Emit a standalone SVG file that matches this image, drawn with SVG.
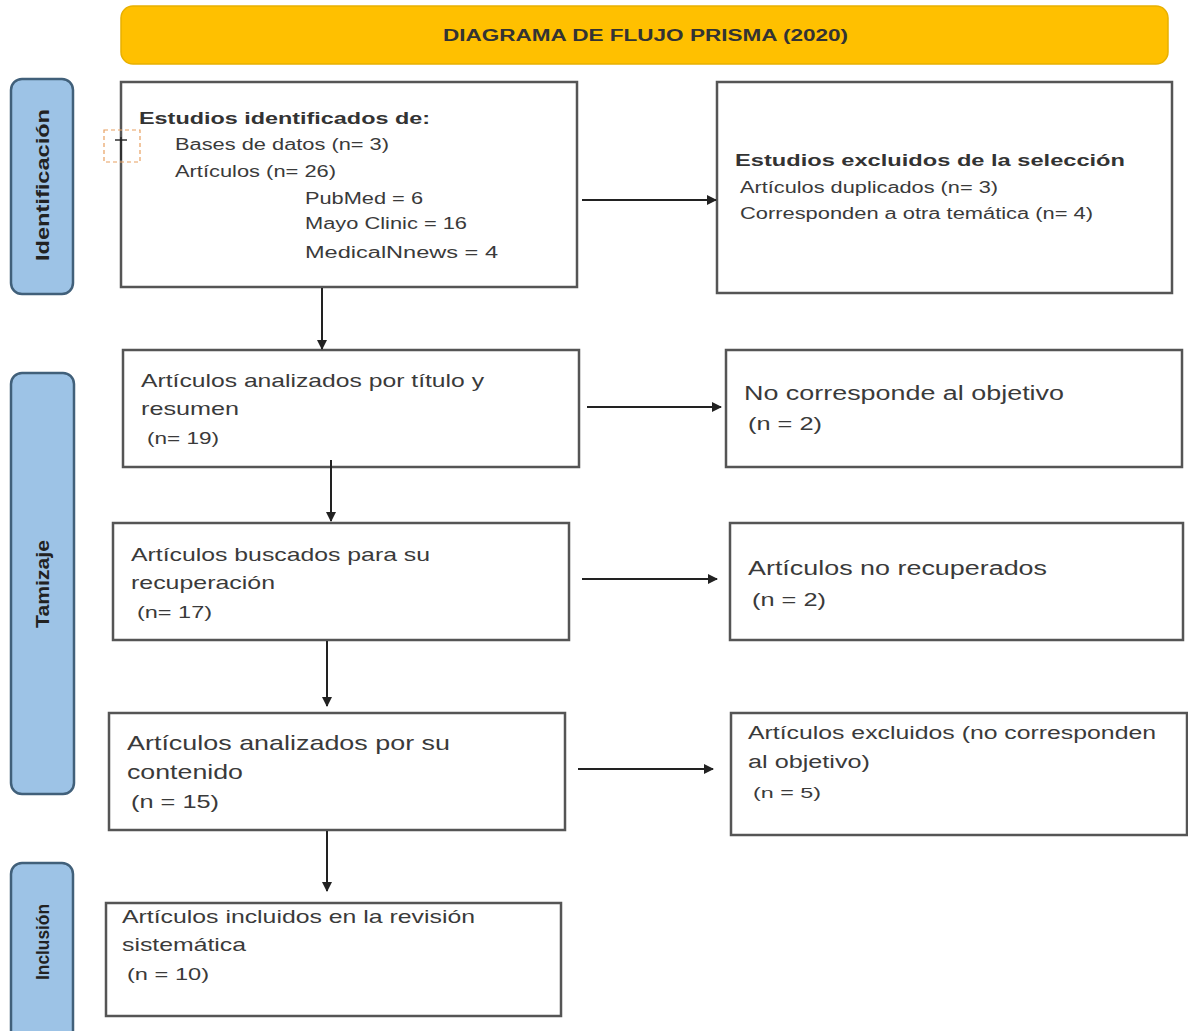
<svg xmlns="http://www.w3.org/2000/svg" width="1188" height="1031" viewBox="0 0 1188 1031">
<defs>
<marker id="ah" viewBox="0 0 10 10" refX="9" refY="5" markerWidth="5" markerHeight="5" orient="auto" markerUnits="strokeWidth">
<path d="M0,0 L10,5 L0,10 z" fill="#222"/>
</marker>
<style>
.box{fill:#fff;stroke:#555;stroke-width:2.5}
.side{fill:#9dc3e6;stroke:#41607a;stroke-width:2.5}
.sidet{font-family:"Liberation Sans",Arial,sans-serif;font-weight:bold;font-size:19px;fill:#222;text-anchor:middle}
.t{font-family:"Liberation Sans",Arial,sans-serif;fill:#3a3a3a}
.b{font-weight:bold;fill:#333}
.con{stroke:#222;stroke-width:2;fill:none;marker-end:url(#ah)}
</style>
</defs>
<rect width="1188" height="1031" fill="#fff"/>
<g id="title">
<rect x="121" y="6" width="1047" height="58" rx="12" fill="#ffc000" stroke="#e8b000" stroke-width="1.5"/>
<text x="443" y="41" class="t b" font-size="16" fill="#333" textLength="405" lengthAdjust="spacingAndGlyphs">DIAGRAMA DE FLUJO PRISMA (2020)</text>
</g>
<g id="side-identificacion">
<rect x="11" y="79" width="62" height="215" rx="11" class="side"/>
<text class="sidet" transform="translate(49,185) rotate(-90)" textLength="152" lengthAdjust="spacingAndGlyphs">Identificación</text>
</g>
<g id="side-tamizaje">
<rect x="11" y="373" width="63" height="421" rx="11" class="side"/>
<text class="sidet" transform="translate(49,584) rotate(-90)" textLength="88" lengthAdjust="spacingAndGlyphs">Tamizaje</text>
</g>
<g id="side-inclusion">
<rect x="11" y="863" width="62" height="180" rx="11" class="side"/>
<text class="sidet" transform="translate(49,942) rotate(-90)" textLength="76" lengthAdjust="spacingAndGlyphs">Inclusión</text>
</g>
<g id="n-identificados">
<rect x="121" y="82" width="456" height="205" class="box"/>
<text class="t b" x="139" y="124" font-size="17" textLength="291" lengthAdjust="spacingAndGlyphs">Estudios identificados de:</text>
<text class="t" x="175" y="150" font-size="16" textLength="214" lengthAdjust="spacingAndGlyphs">Bases de datos (n= 3)</text>
<text class="t" x="175" y="177" font-size="16" textLength="161" lengthAdjust="spacingAndGlyphs">Artículos (n= 26)</text>
<text class="t" x="305" y="204" font-size="16" textLength="118" lengthAdjust="spacingAndGlyphs">PubMed = 6</text>
<text class="t" x="305" y="229" font-size="16" textLength="162" lengthAdjust="spacingAndGlyphs">Mayo Clinic = 16</text>
<text class="t" x="305" y="258" font-size="16" textLength="193" lengthAdjust="spacingAndGlyphs">MedicalNnews = 4</text>
</g>
<g id="cursor-mark">
<rect x="104" y="130" width="36" height="32" fill="none" stroke="#e8a060" stroke-width="1.2" stroke-dasharray="4,3"/>
<line x1="121" y1="137" x2="121" y2="160" stroke="#222" stroke-width="1.4"/>
<line x1="115" y1="140" x2="127" y2="140" stroke="#222" stroke-width="1.4"/>
</g>
<g id="n-excluidos-seleccion">
<rect x="717" y="82" width="455" height="211" class="box"/>
<text class="t b" x="735" y="166" font-size="17" textLength="390" lengthAdjust="spacingAndGlyphs">Estudios excluidos de la selección</text>
<text class="t" x="740" y="193" font-size="16" textLength="258" lengthAdjust="spacingAndGlyphs">Artículos duplicados (n= 3)</text>
<text class="t" x="740" y="219" font-size="16" textLength="353" lengthAdjust="spacingAndGlyphs">Corresponden a otra temática (n= 4)</text>
</g>
<g id="n-titulo-resumen">
<rect x="123" y="350" width="456" height="117" class="box"/>
<text class="t" x="141" y="387" font-size="19" textLength="343" lengthAdjust="spacingAndGlyphs">Artículos analizados por título y</text>
<text class="t" x="141" y="415" font-size="19" textLength="98" lengthAdjust="spacingAndGlyphs">resumen</text>
<text class="t" x="147" y="444" font-size="16" textLength="72" lengthAdjust="spacingAndGlyphs">(n= 19)</text>
</g>
<g id="n-no-corresponde">
<rect x="726" y="350" width="456" height="117" class="box"/>
<text class="t" x="744" y="400" font-size="20" textLength="320" lengthAdjust="spacingAndGlyphs">No corresponde al objetivo</text>
<text class="t" x="748" y="430" font-size="19" textLength="74" lengthAdjust="spacingAndGlyphs">(n = 2)</text>
</g>
<g id="n-buscados">
<rect x="113" y="523" width="456" height="117" class="box"/>
<text class="t" x="131" y="561" font-size="19" textLength="299" lengthAdjust="spacingAndGlyphs">Artículos buscados para su</text>
<text class="t" x="131" y="589" font-size="19" textLength="144" lengthAdjust="spacingAndGlyphs">recuperación</text>
<text class="t" x="137" y="618" font-size="16" textLength="75" lengthAdjust="spacingAndGlyphs">(n= 17)</text>
</g>
<g id="n-no-recuperados">
<rect x="730" y="523" width="453" height="117" class="box"/>
<text class="t" x="748" y="575" font-size="20" textLength="299" lengthAdjust="spacingAndGlyphs">Artículos no recuperados</text>
<text class="t" x="752" y="606" font-size="19" textLength="74" lengthAdjust="spacingAndGlyphs">(n = 2)</text>
</g>
<g id="n-contenido">
<rect x="109" y="713" width="456" height="117" class="box"/>
<text class="t" x="127" y="750" font-size="21" textLength="323" lengthAdjust="spacingAndGlyphs">Artículos analizados por su</text>
<text class="t" x="127" y="779" font-size="21" textLength="116" lengthAdjust="spacingAndGlyphs">contenido</text>
<text class="t" x="131" y="808" font-size="19" textLength="88" lengthAdjust="spacingAndGlyphs">(n = 15)</text>
</g>
<g id="n-excluidos-objetivo">
<rect x="731" y="713" width="456" height="122" class="box"/>
<text class="t" x="748" y="739" font-size="18" textLength="408" lengthAdjust="spacingAndGlyphs">Artículos excluidos (no corresponden</text>
<text class="t" x="748" y="768" font-size="18" textLength="122" lengthAdjust="spacingAndGlyphs">al objetivo)</text>
<text class="t" x="753" y="798" font-size="15" textLength="68" lengthAdjust="spacingAndGlyphs">(n = 5)</text>
</g>
<g id="n-incluidos">
<rect x="106" y="903" width="455" height="113" class="box"/>
<text class="t" x="122" y="923" font-size="19" textLength="353" lengthAdjust="spacingAndGlyphs">Artículos incluidos en la revisión</text>
<text class="t" x="122" y="951" font-size="19" textLength="124" lengthAdjust="spacingAndGlyphs">sistemática</text>
<text class="t" x="127" y="980" font-size="16" textLength="82" lengthAdjust="spacingAndGlyphs">(n = 10)</text>
</g>
<g id="connectors">
<line x1="582" y1="200" x2="716" y2="200" class="con"/>
<line x1="322" y1="288" x2="322" y2="349" class="con"/>
<line x1="587" y1="407" x2="721" y2="407" class="con"/>
<line x1="331" y1="460" x2="331" y2="521" class="con"/>
<line x1="582" y1="579" x2="717" y2="579" class="con"/>
<line x1="327" y1="641" x2="327" y2="706" class="con"/>
<line x1="578" y1="769" x2="713" y2="769" class="con"/>
<line x1="327" y1="831" x2="327" y2="891" class="con"/>
</g>
</svg>
